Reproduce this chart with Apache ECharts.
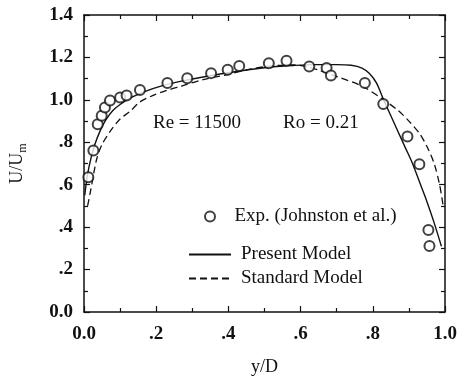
<!DOCTYPE html>
<html>
<head>
<meta charset="utf-8">
<script src="https://cdn.jsdelivr.net/npm/echarts@6/dist/echarts.min.js"></script>
<style>
html,body{margin:0;padding:0;background:#fff;}
#c{width:465px;height:383px;}
</style>
</head>
<body>
<div id="c"></div>
<script>
// Experimental data (Johnston et al.)
var expX = [0.012,0.026,0.038,0.049,0.058,0.072,0.100,0.118,0.155,0.231,0.286,0.352,0.398,0.430,0.512,0.561,0.624,0.672,0.684,0.778,0.829,0.896,0.929,0.954,0.957];
var expY = [0.635,0.761,0.885,0.925,0.964,0.997,1.011,1.020,1.047,1.079,1.102,1.126,1.142,1.160,1.173,1.184,1.157,1.150,1.115,1.079,0.980,0.827,0.697,0.387,0.311];

// Present Model (solid)
var presX = [0.002,0.010,0.020,0.030,0.045,0.060,0.080,0.100,0.130,0.170,0.220,0.270,0.330,0.400,0.460,0.520,0.580,0.640,0.700,0.740,0.770,0.790,0.810,0.830,0.850,0.870,0.890,0.910,0.930,0.950,0.970,0.990];
var presY = [0.550,0.650,0.730,0.790,0.855,0.905,0.950,0.978,1.010,1.040,1.068,1.088,1.108,1.128,1.143,1.155,1.162,1.166,1.166,1.163,1.150,1.125,1.080,1.000,0.925,0.850,0.775,0.700,0.610,0.520,0.420,0.310];

// Standard Model (dashed)
var stdX = [0.010,0.017,0.035,0.050,0.072,0.100,0.127,0.155,0.190,0.230,0.270,0.330,0.400,0.460,0.520,0.580,0.620,0.650,0.700,0.770,0.830,0.870,0.900,0.930,0.950,0.970,0.985,0.995];
var stdY = [0.500,0.560,0.720,0.790,0.850,0.910,0.945,0.990,1.020,1.045,1.065,1.095,1.120,1.145,1.160,1.165,1.155,1.140,1.110,1.065,1.000,0.950,0.900,0.840,0.780,0.700,0.600,0.500];

var xTickLabels = {"0":"0.0","0.2":".2","0.4":".4","0.6":".6","0.8":".8","1":"1.0"};
var yTickLabels = {"0":"0.0","0.2":".2","0.4":".4","0.6":".6","0.8":".8","1":"1.0","1.2":"1.2","1.4":"1.4"};

var seriesNames = ["Exp. (Johnston et al.)","Present Model","Standard Model"];

function zip(a,b){ return a.map(function(v,i){ return [v,b[i]]; }); }
function fmt(map){ return function(v){ var k = String(Math.round(v*10)/10); return map[k] !== undefined ? map[k] : ""; }; }

var ink = '#111';
var font = '"Liberation Serif", "Times New Roman", serif';

var chart = echarts.init(document.getElementById('c'), null, {renderer:'canvas'});

function axisCommon(extra){
  var o = {
    type:'value', min:0,
    axisLine:{show:true, onZero:false, lineStyle:{color:ink, width:1.5}},
    axisTick:{show:true, inside:true, length:6, lineStyle:{color:ink, width:1.2}},
    minorTick:{show:true, splitNumber:2, length:4, lineStyle:{color:ink, width:1.2}},
    splitLine:{show:false},
    minorSplitLine:{show:false}
  };
  for (var k in extra) o[k] = extra[k];
  return o;
}

chart.setOption({
  animation:false,
  backgroundColor:'#fff',
  grid:{left:84, right:20, top:15, bottom:71, containLabel:false},
  xAxis:[
    axisCommon({max:1, interval:0.2, position:'bottom',
      name:'y/D', nameLocation:'middle', nameGap:46,
      nameTextStyle:{fontFamily:font, fontSize:18, color:ink},
      axisLabel:{show:true, margin:13, formatter:fmt(xTickLabels), fontFamily:font, fontSize:19, fontWeight:'bold', color:ink}}),
    axisCommon({max:1, interval:0.2, position:'top', axisLabel:{show:false}})
  ],
  yAxis:[
    axisCommon({max:1.4, interval:0.2, position:'left',
      name:'{a|U/U}{s|m}', nameLocation:'middle', nameGap:55, nameRotate:90,
      nameTextStyle:{rich:{
        a:{fontFamily:font, fontSize:18, color:ink, lineHeight:24},
        s:{fontFamily:font, fontSize:12, color:ink, verticalAlign:'bottom', lineHeight:24}
      }},
      axisLabel:{show:true, margin:11, formatter:fmt(yTickLabels), fontFamily:font, fontSize:19, fontWeight:'bold', color:ink}}),
    axisCommon({max:1.4, interval:0.2, position:'right', axisLabel:{show:false}})
  ],
  legend:[
    {data:[seriesNames[0]], left:204, top:207, padding:0, orient:'vertical', itemWidth:25, itemHeight:10,
     textStyle:{fontFamily:font, fontSize:19, color:ink, padding:[0,0,0,7]}},
    {data:[seriesNames[1]], left:188, top:245, padding:0, orient:'vertical', itemWidth:42, itemHeight:14,
     itemStyle:{opacity:0},
     textStyle:{fontFamily:font, fontSize:19, color:ink, padding:[0,0,0,5]}},
    {data:[seriesNames[2]], left:188, top:269, padding:0, orient:'vertical', itemWidth:42, itemHeight:14,
     itemStyle:{opacity:0},
     textStyle:{fontFamily:font, fontSize:19, color:ink, padding:[0,0,0,5]}}
  ],
  graphic:[
    {type:'text', left:153, top:114, style:{text:'Re = 11500', font:'19px ' + font, fill:ink}},
    {type:'text', left:283, top:114, style:{text:'Ro = 0.21', font:'19px ' + font, fill:ink}}
  ],
  series:[
    {name:seriesNames[1], type:'line', data:zip(presX,presY), symbol:'none', smooth:0.3, z:2,
     lineStyle:{color:ink, width:1.4, type:'solid'}, itemStyle:{color:ink}},
    {name:seriesNames[2], type:'line', data:zip(stdX,stdY), symbol:'none', smooth:0.3, z:2,
     lineStyle:{color:ink, width:1.3, type:[7,4]}, itemStyle:{color:ink}},
    {name:seriesNames[0], type:'scatter', data:zip(expX,expY), symbol:'emptyCircle', symbolSize:10, z:5,
     itemStyle:{color:ink, borderColor:ink, borderWidth:1.3}}
  ]
});
</script>
</body>
</html>
